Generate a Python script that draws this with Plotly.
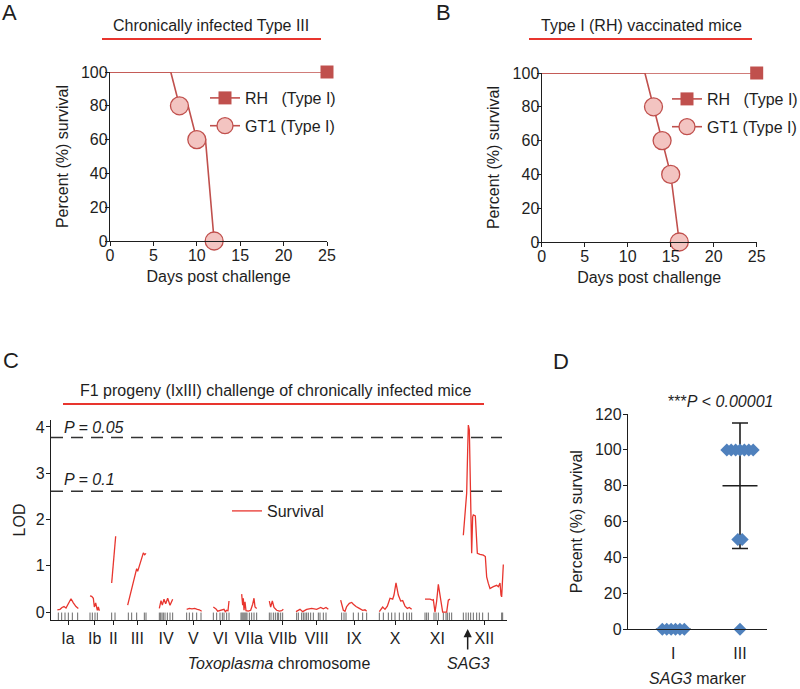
import numpy as np
import plotly.graph_objects as go

# ------------------------------------------------------------------ data
# Panel A - chronically infected Type III mice
a_rh_days = [0, 25]
a_rh_surv = [100, 100]
a_gt1_days = [0, 7, 8, 9, 10, 11, 12]
a_gt1_surv = [100, 100, 80, 80, 60, 60, 0]
a_gt1_mark_days = [8, 10, 12]
a_gt1_mark_surv = [80, 60, 0]

# Panel B - Type I (RH) vaccinated mice
b_rh_days = [0, 25]
b_rh_surv = [100, 100]
b_gt1_days = [0, 12, 13, 14, 15, 16]
b_gt1_surv = [100, 100, 80, 60, 40, 0]
b_gt1_mark_days = [13, 14, 15, 16]
b_gt1_mark_surv = [80, 60, 40, 0]

rh_mark_days = [25]
rh_mark_surv = [100]
day_ticks = [0, 5, 10, 15, 20, 25]
surv_ticks = [0, 20, 40, 60, 80, 100]

# Panel C - LOD scan (genome position in map units)
chrom_names = ["Ia", "Ib", "II", "III", "IV", "V", "VI", "VIIa", "VIIb",
               "VIII", "IX", "X", "XI", "XII"]
chrom_pos = [204, 284, 340, 412, 498, 580, 662, 747, 848, 950, 1062, 1185, 1312, 1453]
lod_pos = [
    [172, 180, 186, 192, 198, 205, 213, 220, 228, 235],
    [270, 275, 280, 283, 287, 292, 295, 298],
    [335, 341, 347],
    [383, 390, 398, 405, 410, 413, 417, 421, 425, 430, 434, 438],
    [478, 483, 487, 492, 497, 503, 510, 518],
    [560, 568, 576, 584, 592, 598, 605],
    [640, 648, 653, 660, 665, 672, 676, 680, 684, 687],
    [725, 728, 730, 732, 735, 738, 745, 752, 758, 762, 765, 770],
    [808, 812, 817, 822, 830, 838, 845, 850],
    [888, 900, 908, 920, 935, 950, 962, 970, 978, 985],
    [1022, 1030, 1035, 1040, 1048, 1055, 1060, 1068, 1078, 1088, 1095, 1100],
    [1138, 1148, 1155, 1162, 1170, 1178, 1182, 1188, 1195, 1202, 1208, 1215, 1222, 1228, 1235],
    [1275, 1290, 1297, 1300, 1305, 1310, 1315, 1320, 1325, 1328, 1340, 1345, 1350],
    [1390, 1395, 1400, 1403, 1405, 1408, 1410, 1413, 1415, 1418, 1420, 1426, 1430, 1432,
     1440, 1450, 1456, 1460, 1465, 1470, 1480, 1490, 1495, 1500, 1503, 1505, 1510],
]
lod_val = [
    [0.05, 0.06, 0.10, 0.12, 0.09, 0.18, 0.29, 0.20, 0.12, 0.08],
    [0.35, 0.34, 0.30, 0.11, 0.20, 0.04, 0.11, 0.03],
    [0.63, 1.15, 1.64],
    [0.15, 0.36, 0.58, 0.80, 0.94, 0.88, 0.99, 1.05, 1.16, 1.28, 1.24, 1.27],
    [0.08, 0.25, 0.15, 0.28, 0.18, 0.30, 0.15, 0.28],
    [0.06, 0.08, 0.07, 0.08, 0.06, 0.05, 0.02],
    [0.11, 0.07, 0.02, 0.03, 0.05, 0.06, 0.01, 0.04, 0.03, 0.24],
    [0.39, 0.15, 0.30, 0.04, 0.22, 0.03, 0.02, 0.04, 0.17, 0.30, 0.11, 0.08],
    [0.24, 0.11, 0.24, 0.10, 0.04, 0.02, 0.03, 0.06],
    [0.01, 0.06, 0.01, 0.06, 0.08, 0.06, 0.10, 0.07, 0.10, 0.06],
    [0.26, 0.04, 0.02, 0.12, 0.19, 0.21, 0.17, 0.12, 0.08, 0.04, 0.05, 0.02],
    [0.01, 0.11, 0.06, 0.13, 0.30, 0.28, 0.37, 0.63, 0.37, 0.24, 0.25, 0.13, 0.08, 0.10, 0.06],
    [0.28, 0.28, 0.26, 0.27, 0.00, 0.24, 0.60, 0.40, 0.15, 0.00, 0.00, 0.26, 0.28],
    [1.66, 2.21, 2.57, 3.50, 4.04, 3.94, 3.14, 2.06, 1.27, 2.06, 2.10, 2.08, 1.56, 1.27,
     1.25, 1.23, 1.20, 0.76, 0.62, 0.51, 0.55, 0.58, 0.55, 0.63, 0.37, 0.33, 1.03],
]
genetic_markers = [
    175, 185, 195, 205, 217, 233, 270, 277, 285, 292, 335, 345,
    385, 395, 410, 433, 438, 478, 482, 486, 490, 495, 502, 510, 518,
    560, 568, 578, 590, 603, 640, 650, 660, 667, 672, 680, 687,
    723, 726, 729, 732, 735, 738, 741, 748, 755, 762, 770,
    808, 813, 820, 826, 832, 836, 842, 848,
    890, 895, 905, 910, 915, 920, 925, 932, 940, 955, 960, 970, 978,
    1025, 1032, 1038, 1060, 1075, 1088, 1100,
    1138, 1150, 1165, 1175, 1185, 1198, 1210, 1220, 1228, 1235,
    1275, 1280, 1285, 1302, 1308, 1315, 1330, 1338, 1342, 1348, 1355,
    1390, 1398, 1405, 1412, 1420, 1430, 1438, 1448, 1465, 1505, 1508,
]
lod_thresholds = [3.77, 2.61]
threshold_labels = ["P = 0.05", "P = 0.1"]
sag3_pos = 1403
lod_ticks = [0, 1, 2, 3, 4]

# Panel D - survival by SAG3 marker
d_groups = ["I", "III"]
d_vals_I = [0, 0, 0, 0, 0, 0]
d_vals_III = [100, 100, 100, 100, 100, 100, 100, 50, 50, 0]
d_ticks = [0, 20, 40, 60, 80, 100, 120]

# ------------------------------------------------------------------ style
W, H = 800, 689
FONT = "Arial, 'Liberation Sans', Helvetica, sans-serif"
TXT = "#1e1e1e"
DARK = "#c0504d"
PINK = "#f3c4c1"
RED = "#e8352e"
BLUE = "#4f81bd"
AXC = "#1e1e1e"


def fx(p):
    return p / W


def fy(p):
    return 1 - p / H


def spread(values, center, step):
    counts = {}
    for v in values:
        counts[v] = counts.get(v, 0) + 1
    seen = {}
    out = []
    for v in values:
        n = counts[v]
        i = seen.get(v, 0)
        seen[v] = i + 1
        out.append(center + (i - (n - 1) / 2) * step)
    return out


fig = go.Figure()

# ------------------------------------------------------------------ panels A & B
for ax, leg, rd, rs, gd, gs, gmd, gms in [
    ("", "legend", a_rh_days, a_rh_surv, a_gt1_days, a_gt1_surv, a_gt1_mark_days, a_gt1_mark_surv),
    ("2", "legend2", b_rh_days, b_rh_surv, b_gt1_days, b_gt1_surv, b_gt1_mark_days, b_gt1_mark_surv),
]:
    xa, ya = "x" + ax, "y" + ax
    fig.add_trace(go.Scatter(x=gd, y=gs, mode="lines", line=dict(color=DARK, width=1.6),
                             xaxis=xa, yaxis=ya, showlegend=False, cliponaxis=False))
    fig.add_trace(go.Scatter(x=rd, y=rs, mode="lines", line=dict(color=DARK, width=1.6),
                             xaxis=xa, yaxis=ya, showlegend=False, cliponaxis=False))
    fig.add_trace(go.Scatter(x=rh_mark_days, y=rh_mark_surv, mode="markers",
                             marker=dict(symbol="square", size=13, color=DARK),
                             xaxis=xa, yaxis=ya, showlegend=False, cliponaxis=False))
    fig.add_trace(go.Scatter(x=gmd, y=gms, mode="markers",
                             marker=dict(symbol="circle", size=18, color=PINK,
                                         line=dict(color=DARK, width=1.3)),
                             xaxis=xa, yaxis=ya, showlegend=False, cliponaxis=False))
    # legend entries
    fig.add_trace(go.Scatter(x=[None], y=[None], mode="lines+markers",
                             name="RH\u00a0\u00a0\u00a0(Type I)", legend=leg, legendgroup=leg + "rh",
                             line=dict(color=DARK, width=1.6),
                             marker=dict(symbol="square", size=13, color=DARK),
                             xaxis=xa, yaxis=ya))
    fig.add_trace(go.Scatter(x=[None], y=[None], mode="lines+markers",
                             name="GT1 (Type I)", legend=leg, legendgroup=leg + "gt",
                             line=dict(color=DARK, width=1.6),
                             marker=dict(symbol="circle", size=16, color=PINK,
                                         line=dict(color=DARK, width=1.3)),
                             xaxis=xa, yaxis=ya))

# ------------------------------------------------------------------ panel C
cx, cy = [], []
for xs, ys in zip(lod_pos, lod_val):
    cx += list(xs) + [None]
    cy += list(ys) + [None]
fig.add_trace(go.Scatter(x=genetic_markers, y=[-0.1] * len(genetic_markers), mode="markers",
                         marker=dict(symbol="line-ns-open", size=6, color="#6a6a6a",
                                     line=dict(color="#6a6a6a", width=1)),
                         xaxis="x3", yaxis="y3", showlegend=False, cliponaxis=False))
fig.add_trace(go.Scatter(x=cx, y=cy, mode="lines", name="Survival", legend="legend3",
                         line=dict(color=RED, width=1.3), connectgaps=False,
                         xaxis="x3", yaxis="y3"))

# ------------------------------------------------------------------ panel D
groups = [d_vals_I, d_vals_III]
d_mean = [float(np.mean(v)) for v in groups]
d_sd = [float(np.std(v, ddof=1)) for v in groups]
gx = [1, 2]
fig.add_trace(go.Scatter(x=gx, y=d_mean, mode="markers",
                         marker=dict(symbol="line-ew-open", size=25, color=AXC,
                                     line=dict(color=AXC, width=1.6)),
                         error_y=dict(type="data", array=d_sd, visible=True, color=AXC,
                                      thickness=1.6, width=8),
                         xaxis="x4", yaxis="y4", showlegend=False, cliponaxis=False))
dx, dy = [], []
for c, v in zip(gx, groups):
    dx += spread(v, c, 0.066)
    dy += v
fig.add_trace(go.Scatter(x=dx, y=dy, mode="markers",
                         marker=dict(symbol="diamond", size=10, color=BLUE),
                         xaxis="x4", yaxis="y4", showlegend=False, cliponaxis=False))

# ------------------------------------------------------------------ axes
tickf = dict(family=FONT, size=16, color=TXT)
common = dict(showline=True, linecolor=AXC, linewidth=1.4, ticks="outside", ticklen=4,
              tickcolor=AXC, tickwidth=1.3, showgrid=False, zeroline=False, tickfont=tickf,
              fixedrange=True)

layout_axes = dict(
    xaxis=dict(domain=[fx(110), fx(327)], range=[0, 25], tickvals=day_ticks, anchor="y",
               ticklabelstandoff=-4,
               title=dict(text="Days post challenge", font=tickf, standoff=7), **common),
    yaxis=dict(domain=[fy(241), fy(72)], range=[0, 100], tickvals=surv_ticks, anchor="x",
               ticklabelstandoff=-6,
               title=dict(text="Percent (%) survival", font=tickf, standoff=8), **common),
    xaxis2=dict(domain=[fx(541.7), fx(756.7)], range=[0, 25], tickvals=day_ticks, anchor="y2",
                ticklabelstandoff=-4,
                title=dict(text="Days post challenge", font=tickf, standoff=7), **common),
    yaxis2=dict(domain=[fy(242), fy(73)], range=[0, 100], tickvals=surv_ticks, anchor="x2",
                ticklabelstandoff=-6,
                title=dict(text="Percent (%) survival", font=tickf, standoff=8), **common),
    xaxis3=dict(domain=[fx(51), fx(507)], range=[153, 1521], tickvals=chrom_pos,
                ticktext=chrom_names, tickangle=0, anchor="y3",
                title=dict(text="<i>Toxoplasma</i> chromosome", font=tickf, standoff=11),
                **common),
    yaxis3=dict(domain=[fy(620), fy(420)], range=[-0.17, 4.15], tickvals=lod_ticks, anchor="x3",
                ticklabelstandoff=-2,
                title=dict(text="LOD", font=tickf, standoff=6), **common),
    xaxis4=dict(domain=[fx(628), fx(767)], range=[0.32, 2.405], tickvals=gx, ticktext=d_groups,
                anchor="y4", title=dict(text="<i>SAG3</i> marker", font=tickf, standoff=12),
                **{**common, "ticklen": 9, "tickcolor": "rgba(0,0,0,0)"}),
    yaxis4=dict(domain=[fy(629.3), fy(414)], range=[0, 120], tickvals=d_ticks, anchor="x4",
                ticklabelstandoff=-2,
                title=dict(text="Percent (%) survival", font=tickf, standoff=8), **common),
)

# ------------------------------------------------------------------ annotations & shapes
ann = []


def text(x, y, s, size=16, xanchor="center", **kw):
    ann.append(dict(x=fx(x), y=fy(y), xref="paper", yref="paper", text=s, showarrow=False,
                    xanchor=xanchor, yanchor="middle", font=dict(family=FONT, size=size, color=TXT),
                    **kw))


text(9.5, 13, "A", 22)
text(443, 12, "B", 22)
text(10.5, 360, "C", 22)
text(560.5, 361, "D", 22)
text(211, 25, "Chronically infected Type III")
text(641, 25, "Type I (RH) vaccinated mice")
text(275, 390, "F1 progeny (IxIII) challenge of chronically infected mice")
text(720, 401, "***<i>P</i> &lt; <i>0.00001</i>")
for thr, lab, ypix in zip(lod_thresholds, threshold_labels, [427, 479]):
    text(62, ypix, "<i>" + lab + "</i>", 16, xanchor="left")
text(468, 663, "<i>SAG3</i>")
ann.append(dict(x=sag3_pos, y=fy(629), xref="x3", yref="paper", ax=0, ay=22, text="",
                showarrow=True, arrowhead=2, arrowsize=1.1, arrowwidth=1.5, arrowcolor=TXT))

shapes = []
for x0, x1, y in [(102, 321, 39), (529, 752, 39), (63, 484, 404)]:
    shapes.append(dict(type="line", xref="paper", yref="paper", x0=fx(x0), x1=fx(x1),
                       y0=fy(y), y1=fy(y), line=dict(color=RED, width=2)))
for thr in lod_thresholds:
    shapes.append(dict(type="line", xref="x3", yref="y3", x0=153, x1=1506, y0=thr, y1=thr,
                       line=dict(color="#333333", width=1.5, dash="12px,8px")))

legf = dict(family=FONT, size=16, color=TXT)
leg_common = dict(xanchor="left", yanchor="top", bgcolor="rgba(0,0,0,0)", font=legf,
                  tracegroupgap=4, itemsizing="trace")

fig.update_layout(
    width=W, height=H, margin=dict(l=0, r=0, t=0, b=0, autoexpand=False), autosize=False,
    paper_bgcolor="white", plot_bgcolor="white",
    font=dict(family=FONT, size=16, color=TXT),
    showlegend=True, hovermode=False,
    legend=dict(x=fx(205), y=fy(81), **leg_common),
    legend2=dict(x=fx(667), y=fy(82), **leg_common),
    legend3=dict(x=fx(227), y=fy(494), **leg_common),
    annotations=ann, shapes=shapes,
    **layout_axes,
)

fig.write_html("out.html", config={"displayModeBar": False},
               post_script="document.body.style.margin='0px';")
